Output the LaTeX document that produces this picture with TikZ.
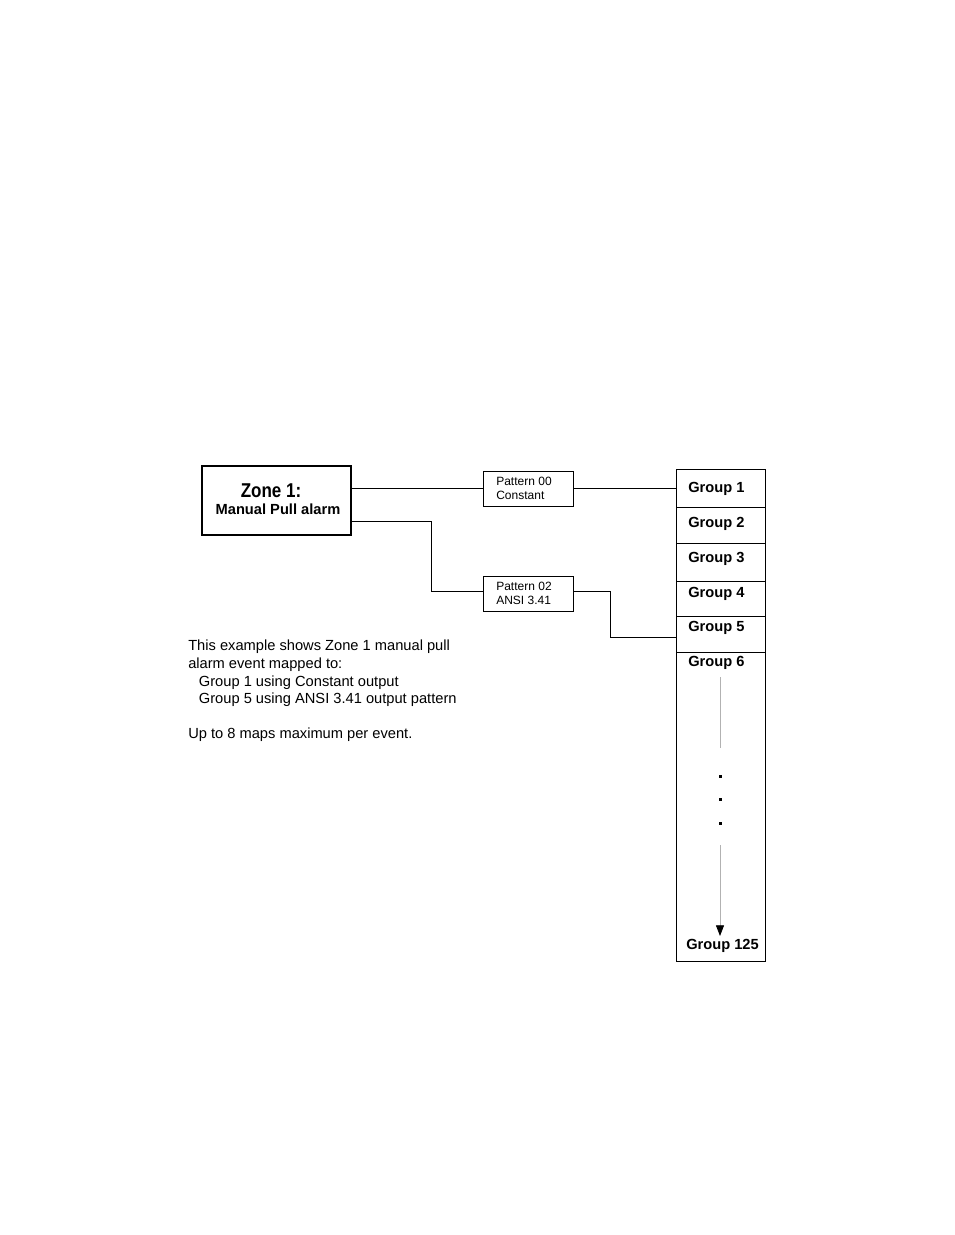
\documentclass[tikz,border=0pt]{standalone}
\usepackage{fontspec}
\setmainfont{Liberation Sans}
\usetikzlibrary{positioning,arrows.meta}

\begin{document}
\begin{tikzpicture}[x=0.75pt, y=-0.75pt]
    \tikzset{
      zonebox/.style = {rectangle, draw=black, line width=0.8pt, minimum width=149*0.75pt, minimum height=69*0.75pt, align=center, inner sep=0pt},
      patbox/.style = {rectangle, draw=black, line width=0.6pt, minimum width=90*0.75pt, minimum height=35*0.75pt, align=left, font=\fontsize{9}{10}\selectfont, inner sep=0pt},
      cell/.style = {rectangle, draw=black, line width=0.6pt, minimum width=89*0.75pt, anchor=north west, inner sep=0pt},
      grp/.style = {anchor=west, font=\bfseries\fontsize{11}{12}\selectfont, inner sep=0pt},
      wire/.style = {line width=0.7pt},
      note/.style = {anchor=north west, align=left, font=\fontsize{11}{13.2}\selectfont, inner sep=0pt}
    }
    \useasboundingbox (0,0) rectangle (954,1235);

    \node (zone) [zonebox] at (276.5,500.5) {};
    \node (zonetitle) at (271,491) {\bfseries\fontsize{15}{16}\selectfont\addfontfeature{FakeStretch=0.85}Zone 1:};
    \node (zonesub) at (278,509) {\bfseries\fontsize{11}{12}\selectfont Manual Pull alarm};

    \node (pat0) [patbox] at (528,488.5) {\hspace*{-6pt}Pattern 00\\\hspace*{-6pt}Constant};
    \node (pat2) [patbox] at (528,593.5) {\hspace*{-6pt}Pattern 02\\\hspace*{-6pt}ANSI 3.41};

    % group column
    \node (col) [cell, minimum height=492*0.75pt] at (676,469) {};
    \node (c1) [cell, minimum height=38*0.75pt] at (676,469) {};
    \node (c2) [cell, minimum height=36*0.75pt] at (676,507) {};
    \node (c3) [cell, minimum height=38*0.75pt] at (676,543) {};
    \node (c4) [cell, minimum height=35*0.75pt] at (676,581) {};
    \node (c5) [cell, minimum height=36*0.75pt] at (676,616) {};
    \node (g1) [grp] at (688,489) {Group 1};
    \node (g2) [grp] at (688,524) {Group 2};
    \node (g3) [grp] at (688,559) {Group 3};
    \node (g4) [grp] at (688,594) {Group 4};
    \node (g5) [grp] at (688,628) {Group 5};
    \node (g6) [grp] at (688,663) {Group 6};
    \node (g125) [grp] at (686,946) {Group 125};

    \coordinate (top) at (720,677);
    \coordinate (topend) at (720,748);
    \coordinate (botstart) at (720,845);
    \coordinate (bot) at (720,936);
    \draw [gray!60, line width=0.6pt] (top) -- (topend);
    \draw [gray!60, line width=0.6pt, -{Triangle[black, length=8pt, width=6pt]}] (botstart) -- (bot);
    \foreach \y in {776,799,823} \fill (718.5,\y-1.5) rectangle ++(3,3);

    % connectors
    \draw [wire] (zone.east |- 0,488) -- (pat0.west |- 0,488);
    \draw [wire] (pat0.east |- 0,488) -- (c1.west |- 0,488);
    \draw [wire] (zone.east |- 0,521) -| (431,591) -- (pat2.west |- 0,591);
    \draw [wire] (pat2.east |- 0,591) -| (610,637) -- (c5.west |- 0,637);

    \node (notes) [note] at (188,640) {This example shows Zone 1 manual pull\\alarm event mapped to:\\\hspace*{8pt}Group 1 using Constant output\\\hspace*{8pt}Group 5 using ANSI 3.41 output pattern\\[13.2pt]Up to 8 maps maximum per event.};
\end{tikzpicture}
\end{document}
